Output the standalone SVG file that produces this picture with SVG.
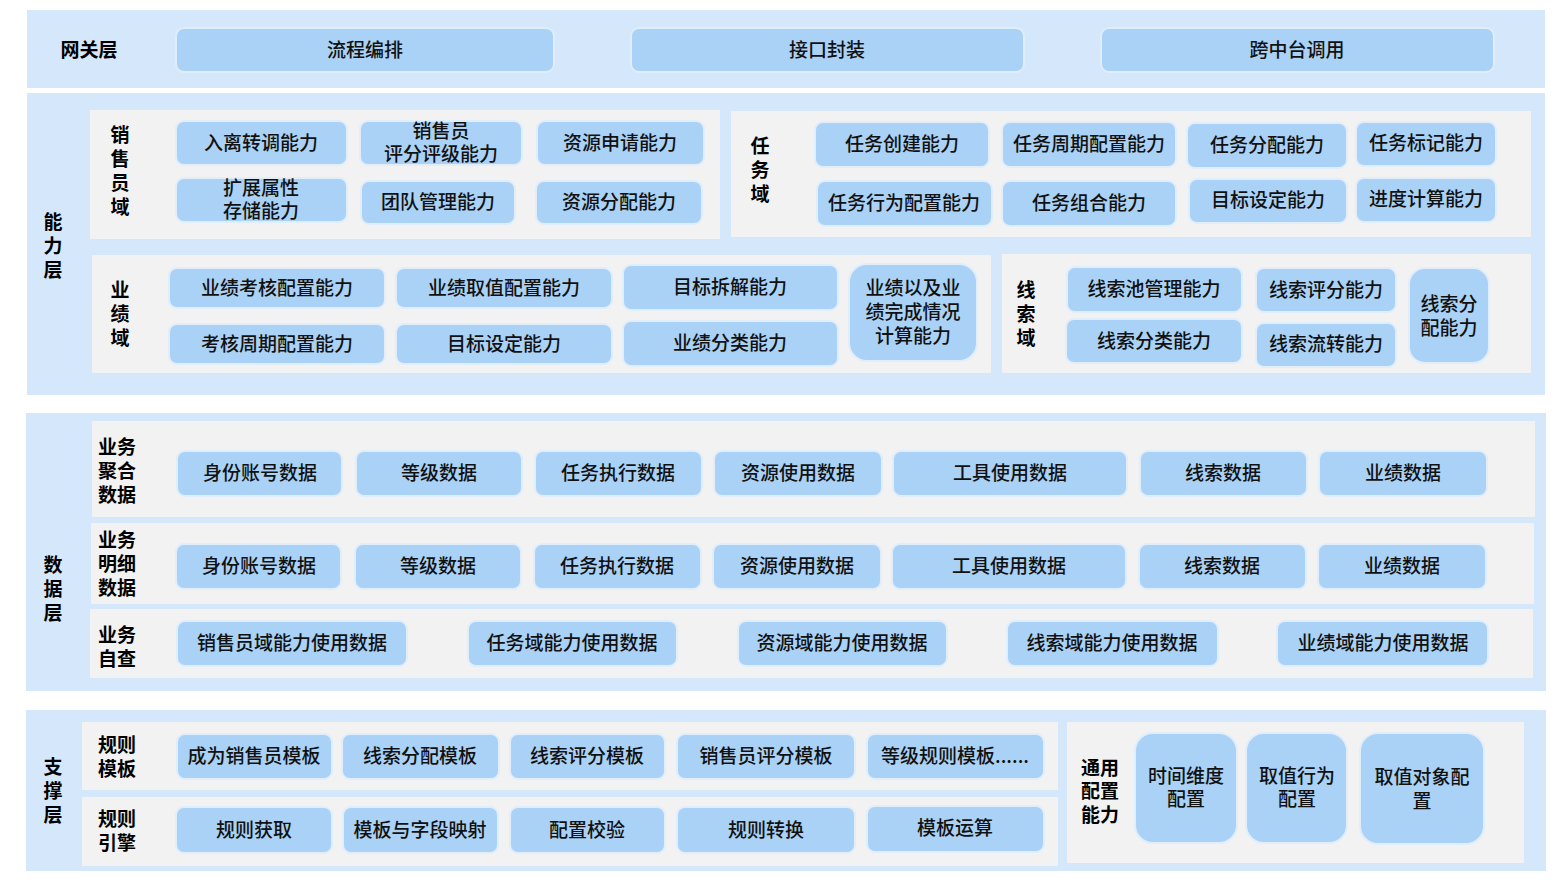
<svg xmlns="http://www.w3.org/2000/svg" width="1558" height="882" viewBox="0 0 1558 882">
<style>
.band{fill:#d5e7fb}
.panel{fill:#f2f2f2}
.box{fill:#aad1f6;stroke:#e0edfb;stroke-width:2}
.t{font-family:"Noto Sans CJK SC","Liberation Sans",sans-serif;font-size:19px;font-weight:500;fill:#111;text-anchor:middle;dominant-baseline:central;transform:translateY(-2px)}
.l{font-family:"Noto Sans CJK SC","Liberation Sans",sans-serif;font-size:19px;font-weight:bold;fill:#000;text-anchor:middle;dominant-baseline:central;transform:translateY(-2px)}
</style>
<rect width="1558" height="882" fill="#ffffff"/>

<!-- Gateway layer -->
<g id="gateway-layer">
<rect class="band" x="27" y="10" width="1518" height="78"/>
<text class="l" x="89" y="50">网关层</text>
</g>
<g id="n-liucheng"><rect class="box" x="176" y="28" width="378" height="44" rx="8"/><text class="t" x="365" y="50">流程编排</text></g>
<g id="n-jiekou"><rect class="box" x="631" y="28" width="393" height="44" rx="8"/><text class="t" x="827" y="50">接口封装</text></g>
<g id="n-kuazhongtai"><rect class="box" x="1101" y="28" width="393" height="44" rx="8"/><text class="t" x="1297" y="50">跨中台调用</text></g>

<!-- Ability layer -->
<g id="ability-layer">
<rect class="band" x="27" y="93" width="1518" height="302"/>
<text class="l" x="53" y="222">能</text><text class="l" x="53" y="246">力</text><text class="l" x="53" y="270">层</text>
<rect class="panel" x="90" y="110" width="630" height="129"/>
<text class="l" x="120" y="135">销</text><text class="l" x="120" y="159">售</text><text class="l" x="120" y="183">员</text><text class="l" x="120" y="207">域</text>
<rect class="panel" x="731" y="111" width="800" height="126"/>
<text class="l" x="760" y="146">任</text><text class="l" x="760" y="170">务</text><text class="l" x="760" y="194">域</text>
<rect class="panel" x="92" y="255" width="899" height="118"/>
<text class="l" x="120" y="290">业</text><text class="l" x="120" y="314">绩</text><text class="l" x="120" y="338">域</text>
<rect class="panel" x="1002" y="254" width="529" height="119"/>
<text class="l" x="1026" y="290">线</text><text class="l" x="1026" y="314">索</text><text class="l" x="1026" y="338">域</text>
</g>
<g id="n-ruli"><rect class="box" x="176" y="121" width="171" height="44" rx="8"/><text class="t" x="261" y="143">入离转调能力</text></g>
<g id="n-pingfen"><rect class="box" x="360" y="121" width="162" height="44" rx="8"/><text class="t" x="441" y="131">销售员</text><text class="t" x="441" y="154">评分评级能力</text></g>
<g id="n-ziyuanshenqing"><rect class="box" x="537" y="121" width="167" height="44" rx="8"/><text class="t" x="620" y="143">资源申请能力</text></g>
<g id="n-kuozhan"><rect class="box" x="176" y="178" width="171" height="44" rx="8"/><text class="t" x="261" y="188">扩展属性</text><text class="t" x="261" y="211">存储能力</text></g>
<g id="n-tuandui"><rect class="box" x="361" y="181" width="154" height="43" rx="8"/><text class="t" x="438" y="202">团队管理能力</text></g>
<g id="n-ziyuanfenpei"><rect class="box" x="536" y="181" width="166" height="43" rx="8"/><text class="t" x="619" y="202">资源分配能力</text></g>

<g id="n-renwuchuangjian"><rect class="box" x="815" y="122" width="174" height="45" rx="8"/><text class="t" x="902" y="144">任务创建能力</text></g>
<g id="n-renwuzhouqi"><rect class="box" x="1002" y="122" width="174" height="45" rx="8"/><text class="t" x="1089" y="144">任务周期配置能力</text></g>
<g id="n-renwufenpei"><rect class="box" x="1187" y="123" width="160" height="45" rx="8"/><text class="t" x="1267" y="145">任务分配能力</text></g>
<g id="n-renwubiaoji"><rect class="box" x="1356" y="122" width="140" height="44" rx="8"/><text class="t" x="1426" y="143">任务标记能力</text></g>
<g id="n-renwuxingwei"><rect class="box" x="817" y="181" width="175" height="45" rx="8"/><text class="t" x="904" y="203">任务行为配置能力</text></g>
<g id="n-renwuzuhe"><rect class="box" x="1002" y="181" width="174" height="45" rx="8"/><text class="t" x="1089" y="203">任务组合能力</text></g>
<g id="n-mubiaoshedingA"><rect class="box" x="1189" y="179" width="158" height="44" rx="8"/><text class="t" x="1268" y="200">目标设定能力</text></g>
<g id="n-jindu"><rect class="box" x="1356" y="178" width="140" height="44" rx="8"/><text class="t" x="1426" y="199">进度计算能力</text></g>

<g id="n-yejikaohe"><rect class="box" x="169" y="268" width="216" height="40" rx="8"/><text class="t" x="277" y="288">业绩考核配置能力</text></g>
<g id="n-kaohezhouqi"><rect class="box" x="169" y="324" width="216" height="40" rx="8"/><text class="t" x="277" y="344">考核周期配置能力</text></g>
<g id="n-yejiquzhi"><rect class="box" x="396" y="268" width="216" height="40" rx="8"/><text class="t" x="504" y="288">业绩取值配置能力</text></g>
<g id="n-mubiaoshedingB"><rect class="box" x="396" y="324" width="216" height="40" rx="8"/><text class="t" x="504" y="344">目标设定能力</text></g>
<g id="n-mubiaochaijie"><rect class="box" x="623" y="265" width="215" height="45" rx="8"/><text class="t" x="730" y="287">目标拆解能力</text></g>
<g id="n-yejifenlei"><rect class="box" x="623" y="321" width="215" height="45" rx="8"/><text class="t" x="730" y="343">业绩分类能力</text></g>
<g id="n-yejijisuan"><rect class="box" x="849" y="264" width="128" height="97" rx="18"/><text class="t" x="913" y="288">业绩以及业</text><text class="t" x="913" y="312">绩完成情况</text><text class="t" x="913" y="336">计算能力</text></g>

<g id="n-xiansuochi"><rect class="box" x="1067" y="267" width="175" height="45" rx="8"/><text class="t" x="1154" y="289">线索池管理能力</text></g>
<g id="n-xiansuofenlei"><rect class="box" x="1066" y="319" width="176" height="44" rx="8"/><text class="t" x="1154" y="341">线索分类能力</text></g>
<g id="n-xiansuopingfen"><rect class="box" x="1256" y="268" width="140" height="44" rx="8"/><text class="t" x="1326" y="290">线索评分能力</text></g>
<g id="n-xiansuoliuzhuan"><rect class="box" x="1256" y="323" width="140" height="44" rx="8"/><text class="t" x="1326" y="344">线索流转能力</text></g>
<g id="n-xiansuofenpei"><rect class="box" x="1409" y="268" width="80" height="95" rx="16"/><text class="t" x="1449" y="304">线索分</text><text class="t" x="1449" y="328">配能力</text></g>

<!-- Data layer -->
<g id="data-layer">
<rect class="band" x="26" y="413" width="1520" height="278"/>
<text class="l" x="53" y="565">数</text><text class="l" x="53" y="589">据</text><text class="l" x="53" y="613">层</text>
<rect class="panel" x="92" y="421" width="1443" height="96"/>
<text class="l" x="117" y="447">业务</text><text class="l" x="117" y="471">聚合</text><text class="l" x="117" y="495">数据</text>
<rect class="panel" x="91" y="523" width="1443" height="81"/>
<text class="l" x="117" y="540">业务</text><text class="l" x="117" y="564">明细</text><text class="l" x="117" y="588">数据</text>
<rect class="panel" x="90" y="609" width="1443" height="69"/>
<text class="l" x="117" y="635">业务</text><text class="l" x="117" y="659">自查</text>
</g>
<g id="n-agg-shenfen"><rect class="box" x="177" y="451" width="165" height="45" rx="8"/><text class="t" x="260" y="473">身份账号数据</text></g>
<g id="n-agg-dengji"><rect class="box" x="356" y="451" width="166" height="45" rx="8"/><text class="t" x="439" y="473">等级数据</text></g>
<g id="n-agg-renwu"><rect class="box" x="535" y="451" width="167" height="45" rx="8"/><text class="t" x="618" y="473">任务执行数据</text></g>
<g id="n-agg-ziyuan"><rect class="box" x="714" y="451" width="168" height="45" rx="8"/><text class="t" x="798" y="473">资源使用数据</text></g>
<g id="n-agg-gongju"><rect class="box" x="893" y="451" width="234" height="45" rx="8"/><text class="t" x="1010" y="473">工具使用数据</text></g>
<g id="n-agg-xiansuo"><rect class="box" x="1140" y="451" width="167" height="45" rx="8"/><text class="t" x="1223" y="473">线索数据</text></g>
<g id="n-agg-yeji"><rect class="box" x="1319" y="451" width="168" height="45" rx="8"/><text class="t" x="1403" y="473">业绩数据</text></g>

<g id="n-det-shenfen"><rect class="box" x="176" y="544" width="165" height="45" rx="8"/><text class="t" x="259" y="566">身份账号数据</text></g>
<g id="n-det-dengji"><rect class="box" x="355" y="544" width="166" height="45" rx="8"/><text class="t" x="438" y="566">等级数据</text></g>
<g id="n-det-renwu"><rect class="box" x="534" y="544" width="167" height="45" rx="8"/><text class="t" x="617" y="566">任务执行数据</text></g>
<g id="n-det-ziyuan"><rect class="box" x="713" y="544" width="168" height="45" rx="8"/><text class="t" x="797" y="566">资源使用数据</text></g>
<g id="n-det-gongju"><rect class="box" x="892" y="544" width="234" height="45" rx="8"/><text class="t" x="1009" y="566">工具使用数据</text></g>
<g id="n-det-xiansuo"><rect class="box" x="1139" y="544" width="167" height="45" rx="8"/><text class="t" x="1222" y="566">线索数据</text></g>
<g id="n-det-yeji"><rect class="box" x="1318" y="544" width="168" height="45" rx="8"/><text class="t" x="1402" y="566">业绩数据</text></g>

<g id="n-chk-xiaoshou"><rect class="box" x="177" y="621" width="230" height="45" rx="8"/><text class="t" x="292" y="643">销售员域能力使用数据</text></g>
<g id="n-chk-renwu"><rect class="box" x="468" y="621" width="209" height="45" rx="8"/><text class="t" x="572" y="643">任务域能力使用数据</text></g>
<g id="n-chk-ziyuan"><rect class="box" x="738" y="621" width="209" height="45" rx="8"/><text class="t" x="842" y="643">资源域能力使用数据</text></g>
<g id="n-chk-xiansuo"><rect class="box" x="1007" y="621" width="211" height="45" rx="8"/><text class="t" x="1112" y="643">线索域能力使用数据</text></g>
<g id="n-chk-yeji"><rect class="box" x="1277" y="621" width="211" height="45" rx="8"/><text class="t" x="1383" y="643">业绩域能力使用数据</text></g>

<!-- Support layer -->
<g id="support-layer">
<rect class="band" x="26" y="710" width="1520" height="161"/>
<text class="l" x="53" y="767">支</text><text class="l" x="53" y="791">撑</text><text class="l" x="53" y="815">层</text>
<rect class="panel" x="82" y="722" width="976" height="68"/>
<text class="l" x="117" y="745">规则</text><text class="l" x="117" y="769">模板</text>
<rect class="panel" x="82" y="797" width="976" height="69"/>
<text class="l" x="117" y="819">规则</text><text class="l" x="117" y="843">引擎</text>
<rect class="panel" x="1067" y="722" width="457" height="141"/>
<text class="l" x="1100" y="768">通用</text><text class="l" x="1100" y="791">配置</text><text class="l" x="1100" y="815">能力</text>
</g>
<g id="n-chengwei"><rect class="box" x="177" y="734" width="155" height="45" rx="8"/><text class="t" x="254" y="756">成为销售员模板</text></g>
<g id="n-xiansuofenpeimb"><rect class="box" x="342" y="734" width="157" height="45" rx="8"/><text class="t" x="420" y="756">线索分配模板</text></g>
<g id="n-xiansuopingfenmb"><rect class="box" x="510" y="734" width="155" height="45" rx="8"/><text class="t" x="587" y="756">线索评分模板</text></g>
<g id="n-xiaoshoupingfenmb"><rect class="box" x="677" y="734" width="178" height="45" rx="8"/><text class="t" x="766" y="756">销售员评分模板</text></g>
<g id="n-dengjimb"><rect class="box" x="867" y="734" width="177" height="45" rx="8"/><text class="t" x="955" y="756">等级规则模板......</text></g>

<g id="n-huoqu"><rect class="box" x="176" y="807" width="156" height="46" rx="8"/><text class="t" x="254" y="830">规则获取</text></g>
<g id="n-yingshe"><rect class="box" x="343" y="807" width="155" height="46" rx="8"/><text class="t" x="420" y="830">模板与字段映射</text></g>
<g id="n-jiaoyan"><rect class="box" x="510" y="807" width="155" height="46" rx="8"/><text class="t" x="587" y="830">配置校验</text></g>
<g id="n-zhuanhuan"><rect class="box" x="677" y="807" width="178" height="46" rx="8"/><text class="t" x="766" y="830">规则转换</text></g>
<g id="n-yunsuan"><rect class="box" x="867" y="806" width="177" height="46" rx="8"/><text class="t" x="955" y="828">模板运算</text></g>

<g id="n-shijian"><rect class="box" x="1135" y="733" width="102" height="110" rx="18"/><text class="t" x="1186" y="776">时间维度</text><text class="t" x="1186" y="799">配置</text></g>
<g id="n-quzhixingwei"><rect class="box" x="1246" y="733" width="101" height="110" rx="18"/><text class="t" x="1297" y="776">取值行为</text><text class="t" x="1297" y="799">配置</text></g>
<g id="n-quzhiduixiang"><rect class="box" x="1360" y="733" width="124" height="111" rx="18"/><text class="t" x="1422" y="777">取值对象配</text><text class="t" x="1422" y="801">置</text></g>

<g id="connectors"></g>
</svg>
